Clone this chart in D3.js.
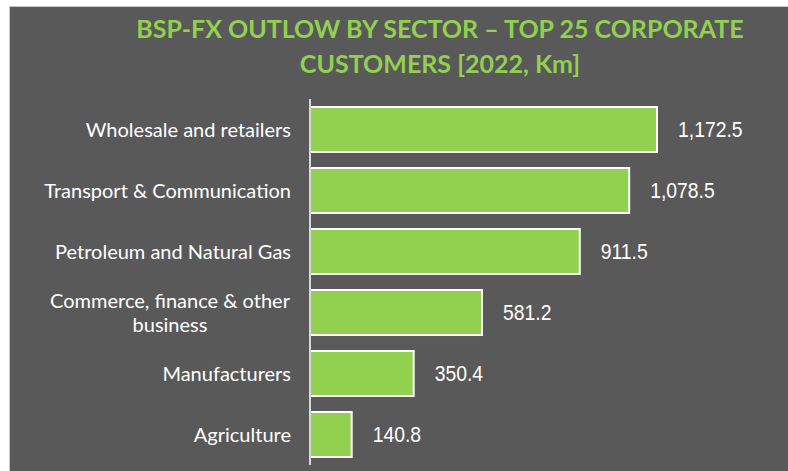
<!DOCTYPE html>
<html><head><meta charset="utf-8">
<script src="https://cdn.jsdelivr.net/npm/d3@7"></script>
<style>body{margin:0;background:#fff}svg{display:block}</style>
</head><body><svg id="c" width="788" height="471"></svg>
<script>
const categories = ["Wholesale and retailers","Transport & Communication","Petroleum and Natural Gas","Commerce, finance & other business","Manufacturers","Agriculture"];
const labelLines = [["Wholesale and retailers"],["Transport & Communication"],["Petroleum and Natural Gas"],["Commerce, finance & other","business"],["Manufacturers"],["Agriculture"]];
const values = [1172.5,1078.5,911.5,581.2,350.4,140.8];
const valueLabels = ["1,172.5","1,078.5","911.5","581.2","350.4","140.8"];
const titleLines = ["BSP-FX OUTLOW BY SECTOR \u2013 TOP 25 CORPORATE","CUSTOMERS [2022, Km]"];

const svg = d3.select("#c");
svg.append("rect").attr("x",9.5).attr("y",6.5).attr("width",790).attr("height",470)
  .attr("fill","#595959").attr("stroke","#c8c8c8").attr("stroke-width",1);

const axX = 310;
const x = d3.scaleLinear().domain([0,1172.5]).range([0,347]);
const y = d3.scaleBand().domain(categories).range([99,465]).paddingInner(0.262).paddingOuter(0.131);

svg.selectAll("rect.bar").data(values).join("rect").attr("class","bar")
  .attr("x",axX).attr("y",(d,i)=>y(categories[i]))
  .attr("width",d=>x(d)).attr("height",y.bandwidth())
  .attr("fill","#92D050").attr("stroke","#ffffff").attr("stroke-width",2);

svg.append("line").attr("x1",axX).attr("x2",axX).attr("y1",99).attr("y2",465)
  .attr("stroke","#d9d9d9").attr("stroke-width",2);

svg.selectAll("text.val").data(values).join("text").attr("class","val")
  .attr("x",d=>axX+x(d)+21).attr("y",(d,i)=>y(categories[i])+y.bandwidth()/2)
  .attr("dy","0.36em").attr("fill","#ffffff")
  .style("font-family","'Liberation Sans',Arial,sans-serif").style("font-size","22px")
  .text((d,i)=>valueLabels[i])
  .each(function(){ const w=this.getComputedTextLength(); d3.select(this).attr("textLength",w*0.88).attr("lengthAdjust","spacingAndGlyphs"); });

const cat = svg.selectAll("g.cat").data(categories).join("g").attr("class","cat");
cat.each(function(d,i){
  const g = d3.select(this);
  const lines = labelLines[i];
  const cy = y(d)+y.bandwidth()/2;
  const lh = 24;
  const multi = lines.length>1;
  lines.forEach((t,j)=>{
    g.append("text").attr("x", multi?170:291)
      .attr("y", cy + (j-(lines.length-1)/2)*lh).attr("dy","0.35em")
      .attr("text-anchor", multi?"middle":"end").attr("fill","#ffffff")
      .style("font-family","Lato,'Open Sans',sans-serif").style("font-size","20px")
      .text(t);
  });
});

titleLines.forEach((t,j)=>{
  svg.append("text").attr("x",440).attr("y",38+j*35).attr("text-anchor","middle")
    .attr("fill","#92D050").style("font-family","Lato,'Open Sans',sans-serif")
    .style("font-weight","bold").style("font-size","25px").text(t);
});
</script></body></html>
